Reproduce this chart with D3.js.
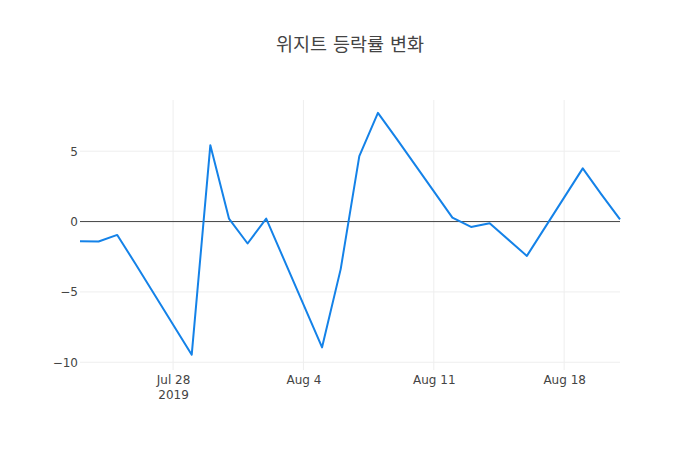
<!DOCTYPE html>
<html lang="ko">
<head>
<meta charset="UTF-8">
<title>위지트 등락률 변화</title>
<script src="https://d3js.org/d3.v7.min.js"></script>
<style>
    body { margin: 0; background: #fff; }
    svg { font-family: "DejaVu Sans", "Noto Sans CJK KR", sans-serif; }
    .tick text { fill: #444; font-size: 12px; font-family: "DejaVu Sans", sans-serif; }
</style>
</head>
<body>
<svg id="chart" width="700" height="450"></svg>
<script>
    // trading days and daily change (%)
    const dates = ["2019-07-23", "2019-07-24", "2019-07-25", "2019-07-26", "2019-07-29",
        "2019-07-30", "2019-07-31", "2019-08-01", "2019-08-02", "2019-08-05",
        "2019-08-06", "2019-08-07", "2019-08-08", "2019-08-09", "2019-08-12",
        "2019-08-13", "2019-08-14", "2019-08-16", "2019-08-19", "2019-08-20",
        "2019-08-21"];
    const changes = [-1.40, -1.42, -0.95, -3.05, -9.46,
        5.43, 0.21, -1.56, 0.21, -8.94,
        -3.38, 4.65, 7.73, 5.9, 0.28,
        -0.38, -0.12, -2.44, 3.78, 1.93,
        0.16];
    const yTicks = [-10, -5, 0, 5];
    const title = "위지트 등락률 변화";

    const parse = d3.timeParse("%Y-%m-%d");
    const data = dates.map((d, i) => ({ date: parse(d), value: changes[i] }));

    const margin = { top: 100, right: 80, bottom: 80, left: 80 };
    const width = 700 - margin.left - margin.right;
    const height = 450 - margin.top - margin.bottom;

    const svg = d3.select("#chart");
    const g = svg.append("g").attr("transform", `translate(${margin.left},${margin.top})`);

    const x = d3.scaleTime()
        .domain(d3.extent(data, d => d.date))
        .range([0, width]);
    const y = d3.scaleLinear()
        .domain([-10.55, 8.64])
        .range([height, 0]);

    // grid
    const xTicks = x.ticks(d3.timeWeek.every(1));
    g.append("g").selectAll("line")
        .data(xTicks)
        .join("line")
        .attr("x1", d => x(d)).attr("x2", d => x(d))
        .attr("y1", 0).attr("y2", height)
        .attr("stroke", "#eee");
    g.append("g").selectAll("line")
        .data(yTicks.filter(t => t !== 0))
        .join("line")
        .attr("x1", 0).attr("x2", width)
        .attr("y1", d => y(d)).attr("y2", d => y(d))
        .attr("stroke", "#eee");

    // zero line
    g.append("line")
        .attr("x1", 0).attr("x2", width)
        .attr("y1", y(0)).attr("y2", y(0))
        .attr("stroke", "#444")
        .attr("stroke-width", 1);

    // axes (labels only)
    const fmt = d3.timeFormat("%b %-d");
    const xAxis = g.append("g")
        .attr("transform", `translate(0,${height})`)
        .call(d3.axisBottom(x).tickValues(xTicks).tickFormat(fmt).tickSize(0).tickPadding(5));
    xAxis.select(".domain").remove();
    xAxis.selectAll(".tick").filter((d, i) => i === 0)
        .select("text")
        .append("tspan")
        .attr("x", 0)
        .attr("dy", "1.25em")
        .text("2019");

    const yAxis = g.append("g")
        .call(d3.axisLeft(y).tickValues(yTicks)
            .tickFormat(d => d < 0 ? "\u2212" + Math.abs(d) : d)
            .tickSize(0).tickPadding(2));
    yAxis.select(".domain").remove();

    // line
    const line = d3.line()
        .x(d => x(d.date))
        .y(d => y(d.value));
    g.append("path")
        .datum(data)
        .attr("fill", "none")
        .attr("stroke", "#1482e8")
        .attr("stroke-width", 2)
        .attr("stroke-linejoin", "round")
        .attr("d", line);

    // title
    svg.append("text")
        .attr("x", 350)
        .attr("y", 50.5)
        .attr("text-anchor", "middle")
        .attr("fill", "#444")
        .style("font-size", "18.5px")
        .text(title);
</script>
</body>
</html>
